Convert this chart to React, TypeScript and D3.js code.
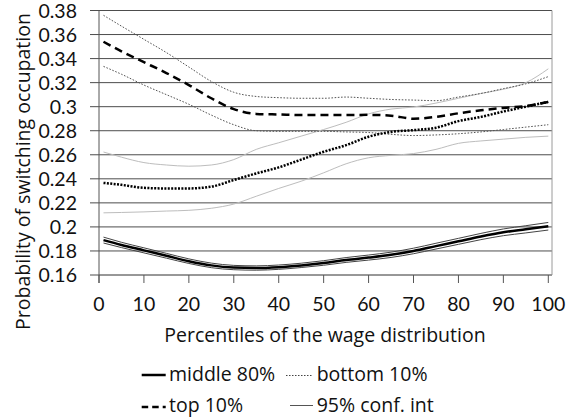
import React from "react";
import * as d3 from "d3";

const percentiles = [1, 5, 10, 15, 20, 25, 30, 35, 40, 45, 50, 55, 60, 65, 70, 75, 80, 85, 90, 95, 100];

const middle80 = [0.189, 0.185, 0.1805, 0.176, 0.1715, 0.168, 0.1662, 0.1658, 0.1665, 0.168, 0.17, 0.1725, 0.1745, 0.1768, 0.18, 0.184, 0.188, 0.192, 0.1955, 0.198, 0.2005];
const middleUpper = [0.1915, 0.1872, 0.1826, 0.178, 0.1734, 0.1699, 0.168, 0.1676, 0.1683, 0.1698, 0.1719, 0.1745, 0.1766, 0.179, 0.1823, 0.1864, 0.1905, 0.1946, 0.1983, 0.201, 0.2037];
const middleLower = [0.1866, 0.1828, 0.1784, 0.174, 0.1696, 0.1661, 0.1644, 0.164, 0.1647, 0.1662, 0.1681, 0.1705, 0.1724, 0.1746, 0.1777, 0.1816, 0.1855, 0.1894, 0.1927, 0.195, 0.1974];

const top10 = [0.354, 0.346, 0.337, 0.328, 0.318, 0.307, 0.298, 0.294, 0.2935, 0.293, 0.293, 0.293, 0.2932, 0.2925, 0.29, 0.2915, 0.2945, 0.297, 0.299, 0.3005, 0.304];
const top10Upper = [0.376, 0.367, 0.356, 0.345, 0.333, 0.321, 0.312, 0.3085, 0.3075, 0.307, 0.307, 0.308, 0.307, 0.306, 0.3055, 0.305, 0.308, 0.311, 0.315, 0.319, 0.325];
const top10Lower = [0.3335, 0.327, 0.318, 0.31, 0.302, 0.293, 0.285, 0.28, 0.2795, 0.2795, 0.2795, 0.279, 0.2785, 0.277, 0.276, 0.2765, 0.2775, 0.279, 0.281, 0.283, 0.285];

const bottom10 = [0.2366, 0.235, 0.2325, 0.232, 0.232, 0.2335, 0.239, 0.2445, 0.2495, 0.256, 0.2625, 0.268, 0.275, 0.279, 0.2805, 0.2825, 0.288, 0.2915, 0.296, 0.3, 0.304];
const bottom10Upper = [0.2623, 0.258, 0.2535, 0.2515, 0.2505, 0.2515, 0.256, 0.2645, 0.27, 0.2755, 0.281, 0.287, 0.294, 0.298, 0.2997, 0.303, 0.307, 0.311, 0.3145, 0.32, 0.3315];
const bottom10Lower = [0.2117, 0.212, 0.2125, 0.2132, 0.2138, 0.2155, 0.219, 0.2255, 0.232, 0.238, 0.245, 0.2525, 0.2575, 0.2595, 0.261, 0.2645, 0.2695, 0.2715, 0.273, 0.2745, 0.2755];

const yTicks = [0.16, 0.18, 0.2, 0.22, 0.24, 0.26, 0.28, 0.3, 0.32, 0.34, 0.36, 0.38];
const yTickLabels = ["0.16", "0.18", "0.2", "0.22", "0.24", "0.26", "0.28", "0.3", "0.32", "0.34", "0.36", "0.38"];
const xTicks = [0, 10, 20, 30, 40, 50, 60, 70, 80, 90, 100];

const xTitle = "Percentiles of the wage distribution";
const yTitle = "Probability of switching occupation";
const legendLabels = ["middle 80%", "bottom 10%", "top 10%", "95% conf. int"];

const W = 579;
const H = 420;
const FONT = "'Open Sans', Lato, sans-serif";
const TICK_FONT = "Lato, 'Open Sans', sans-serif";
const FS = 19.5;
const TICK_FS = 19.5;

export default function App() {
  const x = d3.scaleLinear().domain([0, 100]).range([99, 548.3]);
  const y = d3.scaleLinear().domain([0.16, 0.38]).range([275, 10.5]);
  const plotRight = 552;

  const line = (vals: number[]) =>
    d3
      .line<number>()
      .x((_, i) => x(percentiles[i]))
      .y((v) => y(v))
      .curve(d3.curveMonotoneX)(vals) || "";

  const series = [
    { vals: bottom10Upper, stroke: "#bdbdbd", w: 1, dash: undefined },
    { vals: bottom10Lower, stroke: "#bdbdbd", w: 1, dash: undefined },
    { vals: top10Upper, stroke: "#555", w: 1, dash: "1.6 1.6" },
    { vals: top10Lower, stroke: "#555", w: 1, dash: "1.6 1.6" },
    { vals: middleUpper, stroke: "#444", w: 1, dash: undefined },
    { vals: middleLower, stroke: "#444", w: 1, dash: undefined },
    { vals: middle80, stroke: "#000", w: 2.5, dash: undefined },
    { vals: bottom10, stroke: "#000", w: 2.5, dash: "2 1.4" },
    { vals: top10, stroke: "#000", w: 2.5, dash: "8 5" },
  ];

  return (
    <svg width={W} height={H} style={{ position: "absolute", left: 0, top: 0, background: "#fff" }} fontFamily={FONT}>
      <rect x={0} y={0} width={W} height={H} fill="#fff" />
      {yTicks.map((t) => (
        <line key={"g" + t} x1={90} x2={plotRight} y1={y(t)} y2={y(t)} stroke="#4d4d4d" strokeWidth={1} />
      ))}
      <line x1={plotRight} x2={plotRight} y1={y(0.38)} y2={y(0.16)} stroke="#9a9a9a" strokeWidth={1} />
      <line x1={x(0)} x2={plotRight} y1={y(0.16)} y2={y(0.16)} stroke="#8a8a8a" strokeWidth={1} />
      {xTicks.map((t) => (
        <line key={"xt" + t} x1={x(t)} x2={x(t)} y1={y(0.16)} y2={y(0.16) + 8} stroke="#555" strokeWidth={1} />
      ))}
      <line x1={x(0)} x2={x(0)} y1={y(0.38)} y2={y(0.16) + 8} stroke="#555" strokeWidth={1} />

      {series.map((s, i) => (
        <path key={i} d={line(s.vals)} fill="none" stroke={s.stroke} strokeWidth={s.w} strokeDasharray={s.dash} />
      ))}

      {yTicks.map((t, i) => (
        <text key={"yl" + t} x={77} y={y(t)} dy="0.36em" textAnchor="end" fontSize={TICK_FS} fontFamily={TICK_FONT} fill="#111">
          {yTickLabels[i]}
        </text>
      ))}
      {xTicks.map((t) => (
        <text key={"xl" + t} x={x(t)} y={311} textAnchor="middle" fontSize={TICK_FS} fontFamily={TICK_FONT} fill="#111">
          {t}
        </text>
      ))}
      <text x={325} y={341.5} textAnchor="middle" fontSize={FS} fill="#111">
        {xTitle}
      </text>
      <text transform="translate(30,171.5) rotate(-90)" textAnchor="middle" fontSize={FS} fill="#111">
        {yTitle}
      </text>

      <line x1={141.7} x2={165.7} y1={375} y2={375} stroke="#000" strokeWidth={2.5} />
      <text x={169} y={381} fontSize={FS} fill="#111">{legendLabels[0]}</text>
      <line x1={286} x2={311.7} y1={375.5} y2={375.5} stroke="#444" strokeWidth={1} strokeDasharray="1.5 1.5" />
      <text x={316.7} y={381} fontSize={FS} fill="#111">{legendLabels[1]}</text>
      <line x1={141.7} x2={165.7} y1={407} y2={407} stroke="#000" strokeWidth={2.5} strokeDasharray="6.5 4" />
      <text x={169} y={411.7} fontSize={FS} fill="#111">{legendLabels[2]}</text>
      <line x1={290} x2={313} y1={405.5} y2={405.5} stroke="#555" strokeWidth={1} />
      <text x={316.7} y={411.7} fontSize={FS} fill="#111">{legendLabels[3]}</text>
    </svg>
  );
}
